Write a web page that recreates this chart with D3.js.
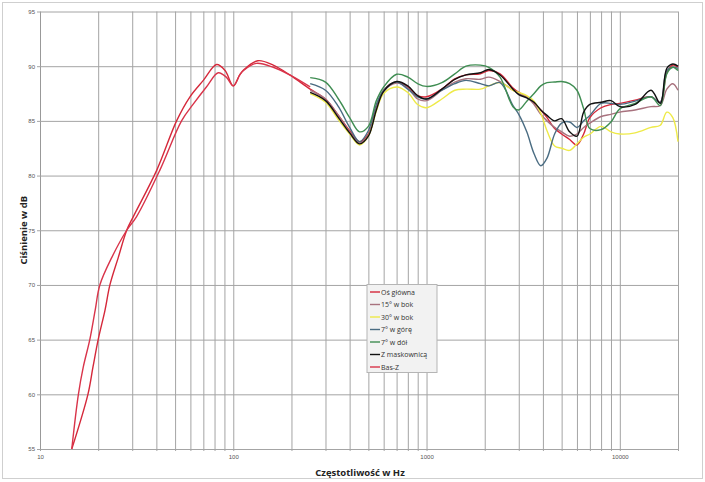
<!DOCTYPE html>
<head>
  <meta charset="utf-8">
  <title>Ciśnienie w dB</title>
  <script src="https://d3js.org/d3.v7.min.js"></script>
  <style>
    body { margin: 0; background: #fff; }
    svg { font-family: 'Open Sans', sans-serif; }
    .tick text { fill: #555; font-size: 6px; }
    .grid line { stroke: #a4a4a4; stroke-width: 1; }
    .grid path { stroke: #999; }
    .title { font-weight: bold; font-size: 9.5px; fill: #222; }
    .legend text { font-size: 7px; fill: #333; }
  </style>
</head>
<body>
<div id="chart"></div>
<script>

  // frequencies (Hz) and levels (dB)
  var freqOsBass = [14.6, 17.7, 18.8, 20.0, 21.7, 23.0, 25.4, 28.1, 30.4, 40.2, 50.9, 59.7, 70, 82, 90.7, 100, 108, 113, 134, 161, 196];
  var valOsBass = [55, 60, 62.5, 65, 67.7, 70, 72.5, 75, 76.25, 80.5, 85, 87.2, 88.7, 90.15, 89.6, 88.2, 89.2, 89.65, 90.5, 90.1, 89.2];

  var freqBasZ = [14.6, 15.8, 16.75, 18.1, 19.3, 20.4, 23.5, 28.1, 31.6, 41.7, 54, 62.2, 72.6, 83.6, 92, 100, 108, 113, 131.6, 161, 196, 250];
  var valBasZ = [55, 60, 62.5, 65, 67.7, 70, 72.5, 75, 76.25, 80.5, 85, 86.55, 88.1, 89.4, 89.0, 88.2, 89.2, 89.6, 90.26, 89.9, 89.2, 88.1];

  var freqMid = [250, 300, 350, 400, 450, 500, 550, 600, 700, 800, 900, 1000, 1200, 1400, 1600, 1900, 2100, 2400, 2800, 3000,
    3300, 3600, 3900, 4200, 4600, 5000, 5500, 6000, 6500, 7000, 8000, 9000, 10000, 12000, 14500, 16200, 17500, 18800, 20000];

  var valOsMid = [87.9, 87.0, 85.5, 84.1, 83.1, 83.8, 86.2, 87.8, 88.55, 88.1, 87.3, 87.2, 87.9, 88.85, 89.2, 89.3, 89.6, 89.3, 88.0, 87.6,
    87.2, 86.6, 86.0, 85.3, 84.3, 83.8, 83.3, 82.8, 83.8, 85.3, 86.2, 86.5, 86.6, 86.9, 87.2, 86.7, 89.4, 90.1, 89.9];
  var val15 = [87.8, 87.0, 85.5, 84.0, 83.0, 83.7, 86.1, 87.7, 88.45, 88.0, 87.0, 86.85, 87.8, 88.55, 88.85, 88.8, 89.0, 88.6, 87.8, 87.5,
    87.2, 86.5, 85.6, 85.0, 84.4, 84.0, 83.6, 83.8, 84.4, 84.8, 85.4, 85.6, 85.8, 86.0, 86.3, 86.4, 87.9, 88.4, 87.8];
  var val30 = [87.5, 86.7, 85.1, 83.8, 82.8, 83.6, 85.9, 87.5, 88.1, 87.6, 86.5, 86.2, 87.0, 87.8, 87.9, 87.9, 88.2, 88.5, 87.8, 87.6,
    87.3, 86.8, 85.7, 84.1, 82.7, 82.5, 82.3, 82.9, 83.5, 83.8, 84.5, 84.0, 83.8, 83.9, 84.4, 84.6, 85.8, 85.3, 83.1];
  var valGora = [88.4, 87.8, 86.3, 84.4, 83.1, 84.1, 86.5, 87.8, 88.55, 87.9, 87.2, 87.0, 87.8, 88.4, 88.7, 88.4, 88.2, 88.5, 86.4, 85.6,
    84.0, 82.0, 80.9, 81.6, 83.8, 84.8, 84.9, 84.4, 85.0, 85.5, 86.6, 86.6, 86.5, 86.8, 87.2, 86.7, 89.6, 89.9, 89.8];
  var valDol = [88.95, 88.55, 87.0, 85.3, 84.0, 84.5, 86.85, 88.1, 89.26, 89.0, 88.4, 88.15, 88.5, 89.3, 90.0, 90.1, 89.9, 89.0, 86.3, 86.0,
    86.8, 87.5, 88.2, 88.5, 88.55, 88.6, 88.4, 87.8, 86.1, 84.3, 84.2, 84.9, 86.1, 86.6, 87.2, 86.4, 89.3, 89.9, 89.6];
  var valMask = [87.6, 86.85, 85.3, 83.9, 82.9, 83.6, 86.0, 87.7, 88.6, 88.2, 87.3, 87.0, 87.9, 88.8, 89.2, 89.4, 89.7, 89.2, 87.9, 87.4,
    87.1, 86.7, 86.0, 85.5, 85.0, 85.2, 84.0, 83.6, 85.8, 86.5, 86.7, 86.85, 86.3, 86.5, 87.8, 86.6, 89.8, 90.2, 90.0];

  var legendNames = ["Oś główna", "15° w bok", "30° w bok", "7° w górę", "7° w dół", "Z maskownicą", "Bas-Z"];
  var colors = ["#d5283a", "#a8727e", "#eeea48", "#4a6c82", "#3f8d52", "#111111", "#d9344a"];

  var yTicks = [55, 60, 65, 70, 75, 80, 85, 90, 95];
  var xLabels = [10, 100, 1000, 10000];

  var W = 705, H = 482;
  var pLeft = 40, pRight = 678, pTop = 11.5, pBottom = 449;

  var svg = d3.select("#chart").append("svg")
    .attr("width", W).attr("height", H);

  // frame
  svg.append("rect")
    .attr("x", 2.5).attr("y", 2.5).attr("width", 700).attr("height", 476)
    .attr("fill", "#fff").attr("stroke", "#cfcfcf");

  var x = d3.scaleLog().domain([10, 20000]).range([pLeft, pRight]);
  var y = d3.scaleLinear().domain([55, 95]).range([pBottom, pTop]);

  // vertical grid: 10..90, 100..900, ... , 20000
  var xGrid = [];
  [10, 100, 1000].forEach(function (d) {
    for (var k = 1; k < 10; k++) xGrid.push(d * k);
  });
  xGrid.push(10000, 20000);

  var xAxis = svg.append("g")
    .attr("class", "grid")
    .attr("transform", "translate(0," + pBottom + ")")
    .call(d3.axisBottom(x)
      .tickValues(xGrid)
      .tickSize(-(pBottom - pTop))
      .tickSizeOuter(0)
      .tickPadding(6)
      .tickFormat(function (d) { return xLabels.indexOf(d) >= 0 ? d : ""; }));
  xAxis.selectAll(".tick line").attr("y1", 2);

  var yAxis = svg.append("g")
    .attr("class", "grid")
    .attr("transform", "translate(" + pLeft + ",0)")
    .call(d3.axisLeft(y)
      .tickValues(yTicks)
      .tickSize(-(pRight - pLeft))
      .tickSizeOuter(0)
      .tickPadding(5));
  // short outer ticks on the left
  yAxis.selectAll(".tick line").attr("x1", -3);

  // axis titles
  svg.append("text")
    .attr("class", "title")
    .attr("x", 360).attr("y", 476)
    .attr("text-anchor", "middle")
    .text("Częstotliwość w Hz");

  svg.append("text")
    .attr("class", "title")
    .attr("transform", "translate(27," + ((pTop + pBottom) / 2) + ") rotate(-90)")
    .attr("text-anchor", "middle")
    .text("Ciśnienie w dB");

  var line = d3.line()
    .x(function (d) { return x(d[0]); })
    .y(function (d) { return y(d[1]); })
    .curve(d3.curveCatmullRom.alpha(0.5));

  function pairs(fs, vs) {
    return fs.map(function (f, i) { return [f, vs[i]]; });
  }

  var series = [
    pairs(freqOsBass.concat(freqMid), valOsBass.concat(valOsMid)),
    pairs(freqMid, val15),
    pairs(freqMid, val30),
    pairs(freqMid, valGora),
    pairs(freqMid, valDol),
    pairs(freqMid, valMask),
    pairs(freqBasZ, valBasZ)
  ];

  svg.append("g").selectAll("path")
    .data(series)
    .enter()
    .append("path")
    .attr("d", line)
    .attr("fill", "none")
    .attr("stroke", function (d, i) { return colors[i]; })
    .attr("stroke-width", 1.4);

  // legend
  var lg = svg.append("g").attr("class", "legend");
  lg.append("rect")
    .attr("x", 367).attr("y", 284.5).attr("width", 70).attr("height", 88)
    .attr("fill", "#f2f2f2").attr("stroke", "#b5b5b5");

  var item = lg.selectAll(".item")
    .data(legendNames)
    .enter()
    .append("g")
    .attr("transform", function (d, i) { return "translate(370," + (292 + i * 12.5) + ")"; });

  item.append("line")
    .attr("x1", 0).attr("x2", 10)
    .attr("stroke", function (d, i) { return colors[i]; })
    .attr("stroke-width", 1.4);

  item.append("text")
    .attr("x", 11).attr("y", 2.5)
    .text(function (d) { return d; });

</script>
</body>
